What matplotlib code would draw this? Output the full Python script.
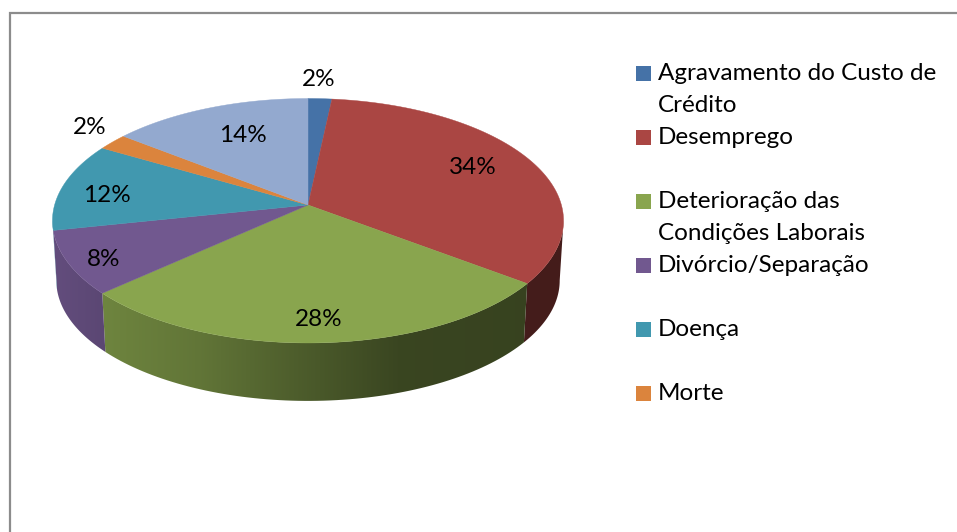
import matplotlib
matplotlib.use("Agg")
import matplotlib.pyplot as plt
import numpy as np
from matplotlib.patches import Polygon, Rectangle

categories = ["Agravamento do Custo de\nCrédito", "Desemprego", "Deterioração das\nCondições Laborais",
              "Divórcio/Separação", "Doença", "Morte", "Outros"]
values = [1.7, 33.6, 28.0, 8.4, 11.7, 2.2, 14.4]
colors = ["#4572A7", "#AA4643", "#89A54E", "#71588F", "#4198AF", "#DB843D", "#93A9CF"]
# the seventh category has no legend row in the picture
legend_rows = [73, 137, 201, 265, 329, 393]
label_xy = [(319, 79), (473, 167), (319, 318), (104, 258), (107, 195), (90, 126), (243, 134)]

plt.rcParams["font.family"] = ["Lato", "DejaVu Sans"]
FS = 17.5

fig = plt.figure(figsize=(9.57, 5.32), dpi=100)
ax = fig.add_axes([0, 0, 1, 1])
ax.set_xlim(0, 957)
ax.set_ylim(532, 0)
ax.axis("off")

# frame runs off the right and bottom of the picture
ax.plot([9.5, 9.5, 970], [545, 13, 13], color="#8c8c8c", lw=1.6, solid_joinstyle="miter")

CX, CY = 308, 205
A, B, K = 120.2, 253.4, -0.1288
# rim angles where the perspective circle is widest
SIDE_LO, SIDE_HI = 97.4, 262.6


def rim(deg, drop=0.0, scale=1.0):
    # perspective circle, angle clockwise from the top
    t = np.radians(deg)
    x, y = np.sin(t), -np.cos(t)
    w = 1 + K * y
    return CX + scale * B * x / w, CY + drop + scale * A * y / w


def shade(x):
    return np.interp(x, [50, 107, 200, 300, 400, 564], [0.88, 0.80, 0.71, 0.56, 0.42, 0.40])


edges = np.concatenate([[0], np.cumsum(values)]) * 3.6

# side walls
for i in range(len(values)):
    lo, hi = max(edges[i], SIDE_LO), min(edges[i + 1], SIDE_HI)
    if hi <= lo:
        continue
    t = np.linspace(lo, hi, 80)
    xt, yt = rim(t)
    xb, yb = rim(t, drop=60, scale=0.985)
    poly = Polygon(np.column_stack([np.r_[xt, xb[::-1]], np.r_[yt, yb[::-1]]]),
                   closed=True, fc="none", ec="none", transform=ax.transData)
    ax.add_patch(poly)
    xs = np.arange(40, 580)
    base = np.array(matplotlib.colors.to_rgb(colors[i]))
    grad = (shade(xs)[None, :, None] * base[None, None, :])
    im = ax.imshow(grad, extent=(40, 580, 420, 200), aspect="auto", zorder=2, interpolation="bilinear")
    im.set_clip_path(poly)
ax.set_xlim(0, 957)
ax.set_ylim(532, 0)

# top face
for i in range(len(values)):
    t = np.linspace(edges[i], edges[i + 1], 120)
    xt, yt = rim(t)
    ax.add_patch(Polygon(np.column_stack([np.r_[CX, xt], np.r_[CY, yt]]), closed=True,
                         fc=colors[i], ec=colors[i], lw=0.3, zorder=3))

for v, (x, y) in zip(values, label_xy):
    ax.text(x, y + 1, f"{v:.0f}%", fontsize=FS, ha="center", va="center", color="black", zorder=5)

# legend
for name, c, y in zip(categories, colors, legend_rows):
    ax.add_patch(Rectangle((636, y - 7.5), 15, 15, fc=c, ec="none", zorder=4))
    for j, line in enumerate(name.split("\n")):
        ax.text(658, y + 1 + j * 32, line, fontsize=FS, ha="left", va="center", color="black")

fig.savefig("out.png", dpi=100)
